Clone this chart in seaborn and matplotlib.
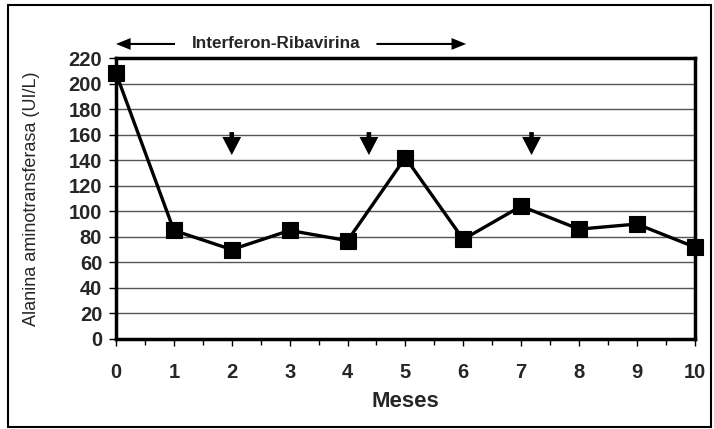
import numpy as np
import pandas as pd
import matplotlib
matplotlib.use("Agg")
import matplotlib.pyplot as plt
from matplotlib.patches import Rectangle
from matplotlib.ticker import MultipleLocator
import seaborn as sns

# data
meses = [0, 1, 2, 3, 4, 5, 6, 7, 8, 9, 10]
alt = [208, 85, 70, 85, 77, 142, 78, 104, 86, 90, 72]

# down arrows (x position, stem top, tip)
dosis_x = [2.0, 4.37, 7.18]
flecha_top = 162
flecha_tip = 144

sns.set_style("white")
plt.rcParams["font.family"] = ["Liberation Sans", "DejaVu Sans"]

df = pd.DataFrame({"mes": meses, "alt": alt})

fig = plt.figure(figsize=(7.14, 4.29), dpi=100)
ax = fig.add_axes([0.1625, 0.2098, 0.8105, 0.655])

# horizontal grid
for yv in range(20, 220, 20):
    ax.axhline(yv, color="#555555", lw=1.0, zorder=1)

sns.lineplot(data=df, x="mes", y="alt", ax=ax, color="black", lw=2.4,
             marker="s", markersize=11.5, markeredgecolor="black",
             markeredgewidth=0.8, zorder=5, clip_on=False)

# treatment arrows
for xv in dosis_x:
    ax.annotate("", xy=(xv, flecha_tip), xytext=(xv, flecha_top),
                arrowprops=dict(arrowstyle="simple,head_length=1.3,head_width=1.35,tail_width=0.33",
                                fc="black", ec="none", lw=0, mutation_scale=10,
                                shrinkA=0, shrinkB=0),
                zorder=6)

# top bracket label
ytop = 231
head = "simple,head_length=1.05,head_width=0.85,tail_width=0.15"
ax.annotate("", xy=(0.0, ytop), xytext=(1.02, ytop), annotation_clip=False,
            arrowprops=dict(arrowstyle=head, fc="black", ec="none", lw=0,
                            mutation_scale=10, shrinkA=0, shrinkB=0))
ax.annotate("", xy=(6.05, ytop), xytext=(4.5, ytop), annotation_clip=False,
            arrowprops=dict(arrowstyle=head, fc="black", ec="none", lw=0,
                            mutation_scale=10, shrinkA=0, shrinkB=0))
ax.text(2.77, ytop, "Interferon-Ribavirina", ha="center", va="center",
        fontsize=12.3, fontweight="bold", clip_on=False)

ax.set_xlim(0, 10)
ax.set_ylim(0, 220)
ax.set_yticks(range(0, 221, 20))
ax.set_xticks(meses)
ax.xaxis.set_minor_locator(MultipleLocator(0.5))

ax.tick_params(axis="both", which="both", direction="out", color="black")
ax.tick_params(axis="y", which="major", length=5, width=1, pad=5,
               labelsize=14.5, left=True)
ax.tick_params(axis="x", which="major", length=5, width=1, pad=12,
               labelsize=14.5, bottom=True)
ax.tick_params(axis="x", which="minor", length=4, width=1, bottom=True)
for lab in ax.get_xticklabels() + ax.get_yticklabels():
    lab.set_fontweight("bold")

ax.set_xlabel("Meses", fontsize=16, fontweight="bold", labelpad=7)
ax.set_ylabel("Alanina aminotransferasa (UI/L)", fontsize=13)
ax.yaxis.set_label_coords(-0.131, 0.5)

for sp in ax.spines.values():
    sp.set_visible(True)
    sp.set_color("black")
    sp.set_linewidth(2.5)

# outer frame
fig.patches.append(Rectangle((0.011, 0.005), 0.985, 0.983, transform=fig.transFigure,
                             fill=False, edgecolor="black", lw=1.5))

fig.savefig("out.png", dpi=100)
